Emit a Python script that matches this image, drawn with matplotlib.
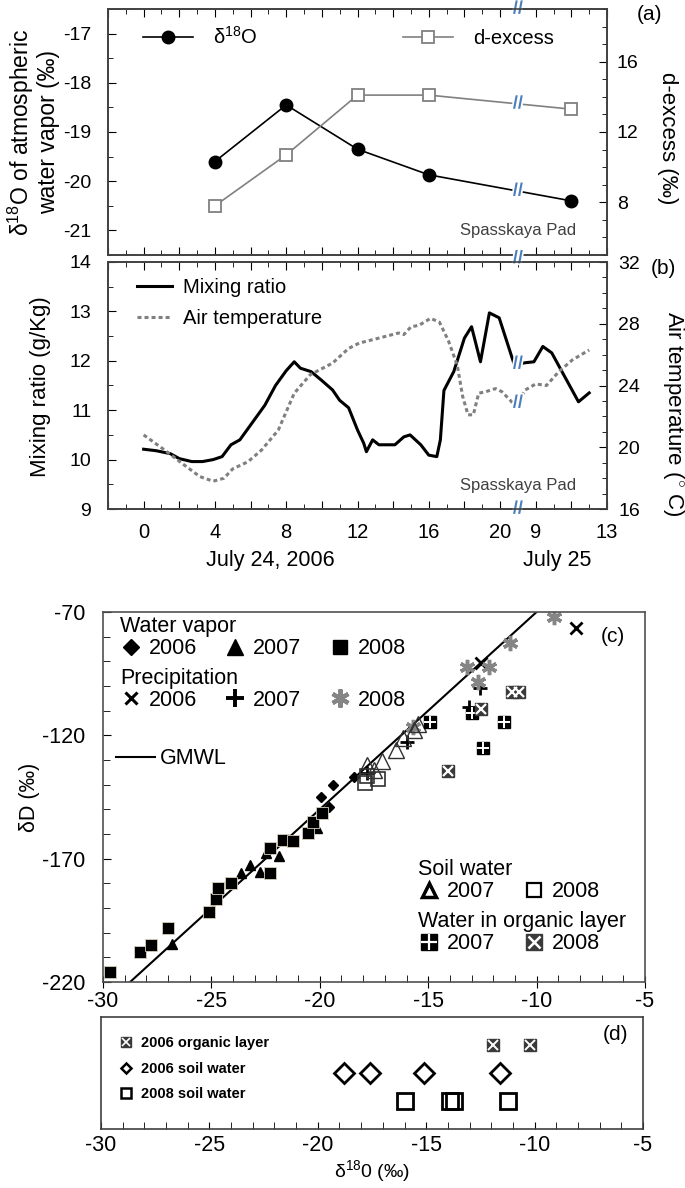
import numpy as np
import matplotlib
matplotlib.use("Agg")
import matplotlib.pyplot as plt
import matplotlib.patheffects as pe
from matplotlib.lines import Line2D
from matplotlib.ticker import MultipleLocator, FixedLocator

plt.rcParams['font.family'] = ['Liberation Sans', 'DejaVu Sans']
plt.rcParams['mathtext.fontset'] = 'custom'
plt.rcParams['mathtext.rm'] = 'Liberation Sans'
plt.rcParams['mathtext.it'] = 'Liberation Sans:italic'
plt.rcParams['mathtext.bf'] = 'Liberation Sans:bold'
plt.rcParams['axes.unicode_minus'] = False

# (a) vapour isotopes, hours counted from 0:00 July 24 (22 = 9:00 July 25)
hours_a = [4, 8, 12, 16, 24]
d18o_a = [-19.6, -18.45, -19.35, -19.87, -20.4]
dex_a = [7.8, 10.7, 14.1, 14.1, 13.3]

# (b) mixing ratio (g/kg) and air temperature (C)
t_mr = [0, 0.7, 1.5, 2.0, 2.7, 3.3, 3.9, 4.4, 4.9, 5.4, 6.1, 6.8, 7.4, 8.0, 8.45,
        8.8, 9.4, 10.0, 10.6, 11.0, 11.5, 12.0, 12.35, 12.5, 12.85, 13.2, 14.1,
        14.6, 14.95, 15.55, 16.0, 16.45, 16.65, 16.85, 17.4, 18.0, 18.4, 18.9,
        19.4, 19.95, 20.8, 21.4, 21.9, 22.4, 22.9, 24.4, 25.0]
mr = [10.21, 10.18, 10.12, 10.02, 9.96, 9.96, 10.0, 10.06, 10.3, 10.4, 10.75,
      11.1, 11.5, 11.8, 11.98, 11.85, 11.78, 11.6, 11.41, 11.2, 11.05, 10.6,
      10.33, 10.16, 10.4, 10.3, 10.3, 10.46, 10.5, 10.3, 10.09, 10.06, 10.4,
      11.4, 11.78, 12.46, 12.69, 11.98, 12.97, 12.87, 11.92, 11.96, 11.98,
      12.29, 12.16, 11.17, 11.35]
t_at = [0, 1.2, 2.15, 3.15, 3.9, 4.5, 5.0, 5.85, 6.6, 7.55, 8.0, 8.45, 9.35,
        10.6, 11.5, 12.1, 13.2, 14.3, 14.6, 15.0, 15.45, 16.1, 16.6, 17.1, 17.6,
        17.9, 18.2, 18.5, 18.8, 19.2, 19.75, 20.1, 20.9, 21.4, 22.0, 22.6, 23.3,
        24.05, 25.0]
at = [20.8, 19.8, 18.96, 18.1, 17.8, 17.99, 18.6, 19.06, 19.8, 21.1, 22.3,
      23.5, 24.7, 25.45, 26.4, 26.75, 27.07, 27.4, 27.3, 27.8, 27.9, 28.35, 28.1,
      26.9, 25.3, 23.3, 22.1, 22.1, 23.5, 23.6, 23.8, 23.6, 22.65, 23.7, 24.1,
      24.0, 24.9, 25.65, 26.3]

xtick_pos = [0, 4, 8, 12, 16, 20, 22, 26]
xtick_lab = ['0', '4', '8', '12', '16', '20', '9', '13']
t_break = 21

# (c) d18O / dD
vap06_x = [-19.95, -19.4, -19.58, -18.43]
vap06_y = [-145, -140, -149, -137]
vap07_x = [-26.8, -23.65, -23.2, -22.75, -22.5, -21.9, -20.15]
vap07_y = [-204.5, -176, -172.5, -175.5, -167.5, -169, -157.5]
vap08_x = [-29.7, -28.3, -27.8, -27.0, -25.1, -24.8, -24.7, -24.1, -22.3, -22.3,
           -21.7, -21.25, -20.55, -20.3, -19.9]
vap08_y = [-216, -208, -205, -198, -191.5, -186.5, -182, -180, -176, -165.5,
           -162.5, -163, -159.5, -155, -151.5]
pre06_x = [-8.2, -12.55]
pre06_y = [-76.5, -90.5]
pre07_x = [-12.6, -13.1, -16.0, -17.8]
pre07_y = [-101, -108.5, -122.7, -135.3]
pre08_x = [-9.2, -11.25, -13.2, -12.2, -12.7, -15.7]
pre08_y = [-72, -82.6, -92.3, -92.3, -98.4, -116.6]
soil07_x = [-17.8, -17.5, -17.15, -16.5, -16.15, -15.65, -15.45]
soil07_y = [-132, -134, -130.5, -126, -121, -118, -115.5]
soil08_x = [-17.9, -17.8, -17.3]
soil08_y = [-139.5, -136.5, -137.5]
org07_x = [-14.9, -13.0, -11.5, -12.45]
org07_y = [-114.6, -111, -114.6, -125.2]
org08_x = [-14.1, -12.55, -11.15, -10.8]
org08_y = [-134.5, -109.3, -102.4, -102.4]

# (d) 2006 samples with d18O only
org06_d = [-11.9, -10.2]
soil06_d = [-18.8, -17.6, -15.1, -11.6]
soil08_d = [-16.0, -13.9, -13.7, -11.25]

W, H = 685, 1188
fig = plt.figure(figsize=(W / 100, H / 100), dpi=100)


def box(l, t, r, b):
    return [l / W, 1 - b / H, (r - l) / W, (b - t) / H]


def brk(ax, x, y, tr):
    ax.text(x, y, '//', transform=tr, color='#4a7ebb', fontsize=13,
            fontweight='bold', ha='center', va='center', clip_on=False, zorder=20,
            path_effects=[pe.withStroke(linewidth=2.5, foreground='white')])


spc = '#404040'

# ---------------- (a)
ax_a = fig.add_axes(box(108, 9, 607, 255))
ax_a2 = ax_a.twinx()
l1, = ax_a.plot(hours_a, d18o_a, color='black', lw=1.2, marker='o', ms=9, zorder=3)
l2, = ax_a2.plot(hours_a, dex_a, color='#808080', lw=1.2, marker='s', ms=9,
                 mfc='white', mec='#808080', mew=1.3)
ax_a.set_xlim(-2, 26)
ax_a.set_ylim(-21.5, -16.5)
ax_a2.set_ylim(5, 19)
ax_a.set_yticks([-21, -20, -19, -18, -17])
ax_a.yaxis.set_minor_locator(MultipleLocator(0.5))
ax_a2.set_yticks([8, 12, 16])
ax_a2.yaxis.set_minor_locator(MultipleLocator(1))
ax_a.xaxis.set_major_locator(MultipleLocator(2))
ax_a.xaxis.set_minor_locator(MultipleLocator(1))
ax_a.tick_params(axis='x', which='both', direction='in', top=True, labelbottom=False)
ax_a.tick_params(axis='y', which='major', direction='in', length=6, labelsize=14, pad=12)
ax_a.tick_params(axis='y', which='minor', direction='in', length=3.5)
ax_a.tick_params(axis='x', which='major', length=6)
ax_a.tick_params(axis='x', which='minor', length=3.5)
ax_a2.tick_params(axis='y', which='major', direction='in', length=6, labelsize=14, pad=7)
ax_a2.tick_params(axis='y', which='minor', direction='in', length=3.5)
ax_a.set_ylabel('δ$^{\\mathrm{18}}$O of atmospheric\nwater vapor (‰)', fontsize=16.5,
                linespacing=1.05, ha='center', va='center')
ax_a.yaxis.set_label_coords(-0.15, 0.5)
ax_a2.set_ylabel('d-excess (‰)', fontsize=16, rotation=270, ha='center', va='center')
ax_a2.yaxis.set_label_coords(1.122, 0.476)
ax_a2.legend([l1, l2], ['δ$^{\\mathrm{18}}$O', 'd-excess'], ncol=2, loc='upper left',
             bbox_to_anchor=(0.07, 0.93), frameon=False, fontsize=14.5,
             handlelength=2.5, handletextpad=1.0, columnspacing=7.2,
             borderpad=0, borderaxespad=0)
ax_a.text(0.822, 0.1, 'Spasskaya Pad', transform=ax_a.transAxes, fontsize=12,
          color='#404040', ha='center', va='center')
brk(ax_a, t_break, 1.0, ax_a.get_xaxis_transform())
brk(ax_a, t_break, np.interp(t_break, hours_a, d18o_a), ax_a.transData)
brk(ax_a2, t_break, np.interp(t_break, hours_a, dex_a), ax_a2.transData)

# ---------------- (b)
ax_b = fig.add_axes(box(108, 262, 607, 509))
ax_b2 = ax_b.twinx()
m1, = ax_b.plot(t_mr, mr, color='black', lw=2.2)
m2, = ax_b2.plot(t_at, at, color='#808080', lw=2.2, ls=(0, (1.3, 1.0)))
ax_b.set_xlim(-2, 26)
ax_b.set_ylim(9, 14)
ax_b2.set_ylim(16, 32)
ax_b.set_yticks([9, 10, 11, 12, 13, 14])
ax_b.yaxis.set_minor_locator(MultipleLocator(0.5))
ax_b2.set_yticks([16, 20, 24, 28, 32])
ax_b2.yaxis.set_minor_locator(MultipleLocator(1))
even = list(range(-2, 27, 2))
ax_b.xaxis.set_major_locator(FixedLocator(even))
ax_b.set_xticklabels([xtick_lab[xtick_pos.index(v)] if v in xtick_pos else '' for v in even])
ax_b.xaxis.set_minor_locator(MultipleLocator(1))
ax_b.tick_params(axis='x', which='major', direction='in', top=True, length=6,
                 labelsize=14.5, pad=10)
ax_b.tick_params(axis='x', which='minor', direction='in', top=True, length=3.5)
ax_b.tick_params(axis='y', which='major', direction='in', length=6, labelsize=14, pad=12)
ax_b.tick_params(axis='y', which='minor', direction='in', length=3.5)
ax_b2.tick_params(axis='y', which='major', direction='in', length=6, labelsize=14, pad=8)
ax_b2.tick_params(axis='y', which='minor', direction='in', length=3.5)
ax_b.set_ylabel('Mixing ratio (g/Kg)', fontsize=16, ha='center', va='center')
ax_b.yaxis.set_label_coords(-0.136, 0.494)
ax_b2.set_ylabel('Air temperature ($^{\\circ}$ C)', fontsize=16, rotation=270,
                 ha='center', va='center')
ax_b2.yaxis.set_label_coords(1.134, 0.385)
ax_b2.legend([m1, m2], ['Mixing ratio', 'Air temperature'], loc='upper left',
             bbox_to_anchor=(0.058, 0.935), frameon=False, fontsize=14.5,
             handlelength=1.75, handletextpad=0.55, labelspacing=0.6,
             borderpad=0, borderaxespad=0)
ax_b.text(0.822, 0.097, 'Spasskaya Pad', transform=ax_b.transAxes, fontsize=12,
          color='#404040', ha='center', va='center')
ax_b.text(0.325, -0.21, 'July 24, 2006', transform=ax_b.transAxes, fontsize=15.5,
          ha='center', va='center')
ax_b.text(0.9, -0.21, 'July 25', transform=ax_b.transAxes, fontsize=15.5,
          ha='center', va='center')
brk(ax_b, t_break, 1.014, ax_b.get_xaxis_transform())
brk(ax_b, t_break, 0.0, ax_b.get_xaxis_transform())
brk(ax_b, t_break, np.interp(t_break, t_mr, mr), ax_b.transData)
brk(ax_b2, t_break, np.interp(t_break, t_at, at), ax_b2.transData)

for ax in (ax_a, ax_a2, ax_b, ax_b2):
    for s in ax.spines.values():
        s.set_color(spc)
        s.set_linewidth(1.2)

fig.text(650 / W, 1 - 15 / H, '(a)', fontsize=15, ha='center', va='center')
fig.text(663 / W, 1 - 268 / H, '(b)', fontsize=15, ha='center', va='center')

# ---------------- (c)
ax_c = fig.add_axes(box(103, 612, 645, 982))
ax_c.axline((0, 10), slope=8, color='black', lw=1.5, zorder=1)
ax_c.plot(vap06_x, vap06_y, ls='none', marker='D', color='black', ms=5.5)
ax_c.plot(vap07_x, vap07_y, ls='none', marker='^', color='black', ms=7.5)
ax_c.plot(vap08_x, vap08_y, ls='none', marker='s', color='black', ms=8.5,
          mec='#d8d0bc', mew=0.6)
ax_c.plot(pre06_x, pre06_y, ls='none', marker='x', color='black', ms=9, mew=2)
ax_c.plot(pre07_x, pre07_y, ls='none', marker='+', color='black', ms=10, mew=2)
ax_c.plot(pre08_x, pre08_y, ls='none', marker=(6, 2, 0), color='#858585', ms=11, mew=2.5)
ax_c.plot(soil07_x, soil07_y, ls='none', marker='^', mfc='none', mec='#303030',
          ms=12, mew=1.0)
ax_c.plot(soil08_x, soil08_y, ls='none', marker='s', mfc='none', mec='#303030',
          ms=10, mew=1.2)
ax_c.plot(org07_x, org07_y, ls='none', marker='s', color='black', ms=8.5)
ax_c.plot(org07_x, org07_y, ls='none', marker='+', color='white', ms=8.5, mew=1.4)
ax_c.plot(org08_x, org08_y, ls='none', marker='s', color='#3a3a3a', ms=9)
ax_c.plot(org08_x, org08_y, ls='none', marker='x', color='white', ms=7.5, mew=1.6)
ax_c.set_xlim(-30, -5)
ax_c.set_ylim(-220, -70)
ax_c.set_xticks([-30, -25, -20, -15, -10, -5])
ax_c.xaxis.set_minor_locator(MultipleLocator(1))
ax_c.set_yticks([-220, -170, -120, -70])
ax_c.yaxis.set_minor_locator(MultipleLocator(10))
ax_c.tick_params(axis='x', which='major', direction='inout', length=9, labelsize=15.5, pad=2)
ax_c.tick_params(axis='x', which='minor', direction='in', length=5)
ax_c.tick_params(axis='y', which='major', direction='in', length=6, labelsize=15.5, pad=13)
ax_c.tick_params(axis='y', which='minor', direction='in', length=5)
for s in ax_c.spines.values():
    s.set_color('#505050')
    s.set_linewidth(1.2)
ax_c.set_ylabel('δD (‰)', fontsize=15.5, ha='center', va='center')
ax_c.yaxis.set_label_coords(-0.135, 0.5)
ax_c.text(613 / W, 1 - 637 / H, '(c)', transform=fig.transFigure, fontsize=15,
          ha='center', va='center')


def mk(**kw):
    return Line2D([], [], ls='none', **kw)


lk = dict(fontsize=15.5, title_fontsize=15.5, loc='upper left', frameon=False,
          alignment='left', handlelength=1.0, handletextpad=0.33,
          columnspacing=1.3, labelspacing=0.05, borderpad=0, borderaxespad=0)
yrs = ['2006', '2007', '2008']
lg = ax_c.legend([mk(marker='D', color='black', ms=8.5), mk(marker='^', color='black', ms=11),
                  mk(marker='s', color='black', ms=10)], yrs, ncol=3,
                 title='Water vapor', bbox_to_anchor=(0.031, 0.989), **lk)
ax_c.add_artist(lg)
lg = ax_c.legend([mk(marker='x', color='black', ms=9, mew=2.2),
                  mk(marker='+', color='black', ms=13, mew=2.8),
                  mk(marker=(6, 2, 0), color='#858585', ms=13, mew=3)], yrs, ncol=3,
                 title='Precipitation', bbox_to_anchor=(0.031, 0.849), **lk)
ax_c.add_artist(lg)
lg = ax_c.legend([Line2D([], [], color='black', lw=1.5)], ['GMWL'],
                 bbox_to_anchor=(0.024, 0.632),
                 **{**lk, 'handlelength': 1.8, 'handletextpad': 0.25})
ax_c.add_artist(lg)
lg = ax_c.legend([mk(marker='^', mfc='none', mec='black', ms=10, mew=2.5),
                  mk(marker='s', mfc='none', mec='black', ms=10, mew=1.6)],
                 ['2007', '2008'], ncol=2, title='Soil water',
                 bbox_to_anchor=(0.581, 0.332), **lk)
ax_c.add_artist(lg)
lg = ax_c.legend([(mk(marker='s', color='black', ms=11), mk(marker='+', color='white', ms=11, mew=1.6)),
                  (mk(marker='s', color='#3a3a3a', ms=11), mk(marker='x', color='white', ms=9, mew=1.8))],
                 ['2007', '2008'], ncol=2, title='Water in organic layer',
                 bbox_to_anchor=(0.581, 0.192), **lk)

# ---------------- (d)
ax_d = fig.add_axes(box(101, 1017, 643, 1129))
ax_d.plot(org06_d, [3] * len(org06_d), ls='none', marker='s', color='#3a3a3a', ms=8)
ax_d.plot(org06_d, [3] * len(org06_d), ls='none', marker='x', color='white', ms=6.5, mew=1.4)
ax_d.plot(soil06_d, [2] * len(soil06_d), ls='none', marker='D', mfc='none', mec='black',
          ms=10, mew=2)
ax_d.plot(soil08_d, [1] * len(soil08_d), ls='none', marker='s', mfc='none', mec='black',
          ms=11.5, mew=2)
ax_d.set_xlim(-30, -5)
ax_d.set_ylim(0, 4)
ax_d.set_yticks([])
ax_d.set_xticks([-30, -25, -20, -15, -10, -5])
ax_d.xaxis.set_minor_locator(MultipleLocator(1))
ax_d.tick_params(axis='x', which='both', direction='in', length=5, labelsize=15.5, pad=4)
for s in ax_d.spines.values():
    s.set_color('#404040')
    s.set_linewidth(1.2)
ax_d.set_xlabel('δ$^{\\mathrm{18}}$0 (‰)', fontsize=14, labelpad=2)
ax_d.legend([(mk(marker='s', color='#3a3a3a', ms=7), mk(marker='x', color='white', ms=5.5, mew=1.2)),
             mk(marker='D', mfc='none', mec='black', ms=5.5, mew=1.8),
             mk(marker='s', mfc='none', mec='black', ms=7, mew=1.8)],
            ['2006 organic layer', '2006 soil water', '2008 soil water'],
            loc='upper left', bbox_to_anchor=(0.033, 0.83), frameon=False,
            prop={'weight': 'bold', 'size': 10.5}, handlelength=1.0,
            handletextpad=0.5, labelspacing=0.8, borderpad=0, borderaxespad=0)
fig.text(615 / W, 1 - 1035 / H, '(d)', fontsize=15, ha='center', va='center')

fig.savefig('out.png', dpi=100)
